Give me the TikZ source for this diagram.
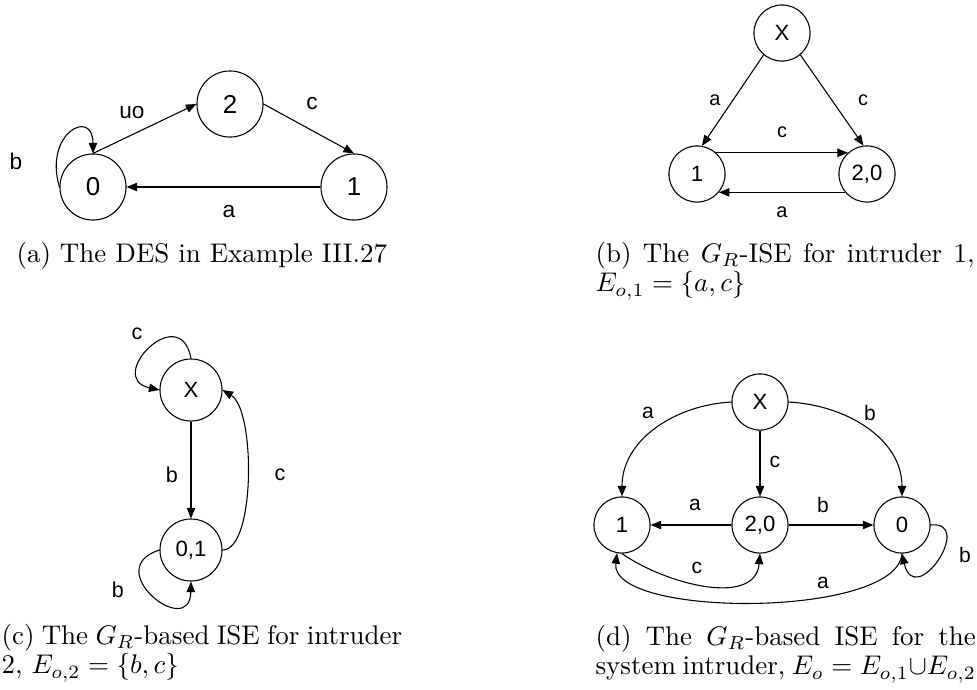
\documentclass[tikz,border=0pt]{standalone}
\usepackage{fontspec}
\newfontfamily\arialf{Liberation Sans}
\usetikzlibrary{arrows.meta}
\begin{document}
\begin{tikzpicture}[x=0.3707pt,y=-0.3707pt,
  st/.style={circle,draw,line width=0.4pt,inner sep=0pt},
  stA/.style={st,minimum size=24.5pt,font=\arialf\fontsize{9.6}{11}\selectfont},
  stB/.style={st,minimum size=20.8pt,font=\arialf\fontsize{8.2}{9}\selectfont},
  stC/.style={st,minimum size=23pt,font=\arialf\fontsize{8.2}{9}\selectfont},
  lblA/.style={inner sep=0pt,font=\arialf\fontsize{8.4}{9}\selectfont},
  lblB/.style={inner sep=0pt,font=\arialf\fontsize{7.4}{8}\selectfont},
  lblC/.style={inner sep=0pt,font=\arialf\fontsize{8}{9}\selectfont},
  lblD/.style={inner sep=0pt,font=\arialf\fontsize{7.8}{8}\selectfont},
  arr/.style={draw,line width=0.4pt,-{Triangle[length=3.9pt,width=3.1pt]}},
  capone/.style={inner sep=0pt,anchor=base west,font=\fontsize{10}{11.1}\selectfont},
  capjust/.style={capone,align=justify}]
\useasboundingbox (0,0) rectangle (977,689);

% ---------- (a)
\node[stA] (a2) at (230,104) {2};
\node[stA] (a0) at (93,187) {0};
\node[stA] (a1) at (354,187) {1};
\draw[arr] (a0.north) -- (a2.west);
\draw[arr] (a2.east) -- (a1.north);
\draw[arr] (a1.west) -- (a0.east);
\draw[arr] (a0.west) .. controls +(-16,-54) and +(0,-46) .. (a0.north);
\node[lblA] (la1) at (132,113) {uo};
\node[lblA] (la2) at (312,104) {c};
\node[lblA] (la3) at (229,212) {a};
\node[lblA] (la4) at (16,161) {b};
\node[capone] (capa) at (16,262) {(a) The DES in Example III.27};

% ---------- (b)
\node[stB] (bX) at (782,33) {X};
\node[stB] (b1) at (697,174) {1};
\node[stB] (b20) at (867,174) {2,0};
\draw[arr] (bX.230) -- (b1.80);
\draw[arr] (bX.310) -- (b20.97);
\draw[arr] (b1.48) -- (b20.132);
\draw[arr] (b20.220) -- (b1.320);
\node[lblB] (lb1) at (715,100) {a};
\node[lblB] (lb2) at (863,100) {c};
\node[lblB] (lb3) at (782,132) {c};
\node[lblB] (lb4) at (782,212) {a};
\node[capjust,text width=140.5pt] (capb) at (595,262) {(b) The $G_R$-ISE for intruder 1,\linebreak $E_{o,1}=\{a,c\}$};

% ---------- (c)
\node[stC] (cX) at (191,390) {X};
\node[stC] (c01) at (191,550) {0,1};
\draw[arr] (cX.south) -- (c01.north);
\draw[arr] (c01.east) .. controls +(33,0) and +(33,20) .. (cX.east);
\draw[arr] (cX.north) .. controls +(-11,-59) and +(-55,-12) .. (cX.west);
\draw[arr] (c01.west) .. controls +(-60,19) and +(-1,59) .. (c01.south);
\node[lblC] (lc1) at (172,475) {b};
\node[lblC] (lc2) at (280,475) {c};
\node[lblC] (lc3) at (137,334) {c};
\node[lblC] (lc4) at (118,590) {b};
\node[capjust,text width=148.5pt] (capc) at (1,644) {(c) The $G_R$-based ISE for intruder\linebreak 2, $E_{o,2}=\{b,c\}$};

% ---------- (d)
\node[stB] (dX) at (760,402) {X};
\node[stB] (d1) at (622,525) {1};
\node[stB] (d20) at (760,525) {2,0};
\node[stB] (d0) at (902,525) {0};
\draw[arr] (dX.south) -- (d20.north);
\draw[arr] (d20.west) -- (d1.east);
\draw[arr] (d20.east) -- (d0.west);
\draw[arr] (dX.west) to[out=183,in=90] (d1.north);
\draw[arr] (dX.east) to[out=-3,in=90] (d0.north);
\draw[arr] (d1.south) to[out=-35,in=-95] (d20.south);
\draw[arr] (d0.south) .. controls +(-5,65) and +(-8,65) .. (d1.260);
\draw[arr] (d0.east) .. controls +(45,-5) and +(13,57) .. (d0.south);
\node[lblD] (ld1) at (648,413) {a};
\node[lblD] (ld2) at (870,413) {b};
\node[lblD] (ld3) at (775,462) {c};
\node[lblD] (ld4) at (695,505) {a};
\node[lblD] (ld5) at (823,505) {b};
\node[lblD] (ld6) at (697,568) {c};
\node[lblD] (ld7) at (823,583) {a};
\node[lblD] (ld8) at (965,555) {b};
\node[capjust,text width=141pt] (capd) at (595,645) {(d) The $G_R$-based ISE for the\linebreak system~intruder,~$E_o=E_{o,1}{\cup}E_{o,2}$};
\end{tikzpicture}
\end{document}
